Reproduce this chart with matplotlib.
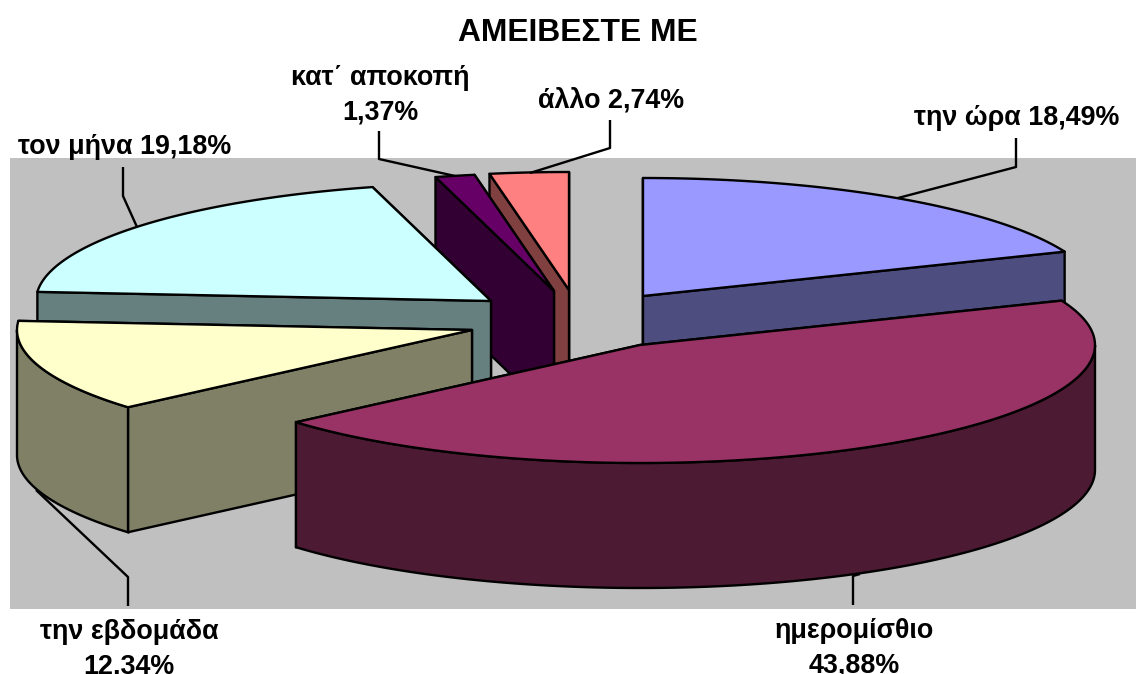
import numpy as np
import matplotlib
matplotlib.use("Agg")
import matplotlib.pyplot as plt
from matplotlib.patches import Polygon, Rectangle

plt.rcParams['font.family'] = ['Liberation Sans', 'DejaVu Sans']

labels = ["την ώρα", "ημερομίσθιο", "την εβδομάδα", "τον μήνα", "κατ΄ αποκοπή", "άλλο"]
values = [18.49, 43.88, 12.34, 19.18, 1.37, 2.74]
top_colors = ["#9999FF", "#993366", "#FFFFCC", "#CCFFFF", "#660066", "#FF8080"]
side_colors = ["#4D4D80", "#4D1A33", "#808066", "#668080", "#330033", "#804040"]

# apex of each exploded slice, in pixels
centers = [(643, 296), (640, 345), (472, 330), (491, 301), (554, 291), (569, 290)]
rx, ry, depth = 455, 118, 125
lw = 1.7

fig = plt.figure(figsize=(11.36, 6.74), dpi=100)
ax = fig.add_axes([0, 0, 1, 1])
ax.set_xlim(0, 1136)
ax.set_ylim(674, 0)
ax.axis('off')

ax.add_patch(Rectangle((10, 158), 1126, 451, fc="#C0C0C0", ec="none", zorder=0))


def arc(c, a, b):
    t = np.radians(np.linspace(a, b, 120))
    return np.column_stack([c[0] + rx*np.sin(t), c[1] - ry*np.cos(t)])


def wall(p, q, color, z):
    pts = [p, q, (q[0], q[1]+depth), (p[0], p[1]+depth)]
    ax.add_patch(Polygon(pts, fc=color, ec="k", lw=lw, joinstyle='round', zorder=z))


# angles run clockwise from 12 o'clock, values are shared out over the whole circle
edges = np.cumsum([0] + values) / sum(values) * 360
order = [0, 5, 4, 3, 2, 1]
for n, i in enumerate(order):
    c, a, b = centers[i], edges[i], edges[i+1]
    z = 2 + n
    top = arc(c, a, b)
    # back cut face first
    walls = sorted([top[0], top[-1]], key=lambda p: (p[1] + c[1]) / 2)
    for p in walls:
        wall(c, p, side_colors[i], z)
    # front part of the rim
    lo, hi = max(a, 90), min(b, 270)
    if lo < hi:
        rim = arc(c, lo, hi)
        low = rim[::-1] + [0, depth]
        ax.add_patch(Polygon(np.vstack([rim, low]), fc=side_colors[i], ec="k", lw=lw, zorder=z))
    ax.add_patch(Polygon(np.vstack([[c], top]), fc=top_colors[i], ec="k", lw=lw, joinstyle='round', zorder=z))

# leader lines
leaders = [
    [(1016, 138), (1016, 167), (898, 198)],
    [(853, 605), (853, 576), (860, 574)],
    [(128, 606), (128, 577), (36, 490)],
    [(123, 167), (123, 196), (137, 227)],
    [(379, 131), (379, 159), (455, 176)],
    [(610, 120), (610, 148), (530, 173)],
]
for pts in leaders:
    xs, ys = zip(*pts)
    ax.plot(xs, ys, color="k", lw=lw, zorder=10, solid_capstyle='butt')

fs = 19.4
ls = 1.42
ax.text(577.5, 33, "ΑΜΕΙΒΕΣΤΕ ΜΕ", fontsize=22.9, fontweight='bold', ha='center', va='center')
ax.text(1017, 118, labels[0] + " 18,49%", fontsize=fs, fontweight='bold', ha='center', va='center')
ax.text(854, 648, labels[1] + "\n43,88%", fontsize=fs, fontweight='bold', ha='center', va='center', linespacing=ls)
ax.text(129, 649, labels[2] + "\n12,34%", fontsize=fs, fontweight='bold', ha='center', va='center', linespacing=ls)
ax.text(124.5, 147, labels[3] + " 19,18%", fontsize=fs, fontweight='bold', ha='center', va='center')
ax.text(380, 95, labels[4] + "\n1,37%", fontsize=fs, fontweight='bold', ha='center', va='center', linespacing=ls)
ax.text(611, 100, labels[5] + " 2,74%", fontsize=fs, fontweight='bold', ha='center', va='center')

fig.savefig("out.png", dpi=100)
